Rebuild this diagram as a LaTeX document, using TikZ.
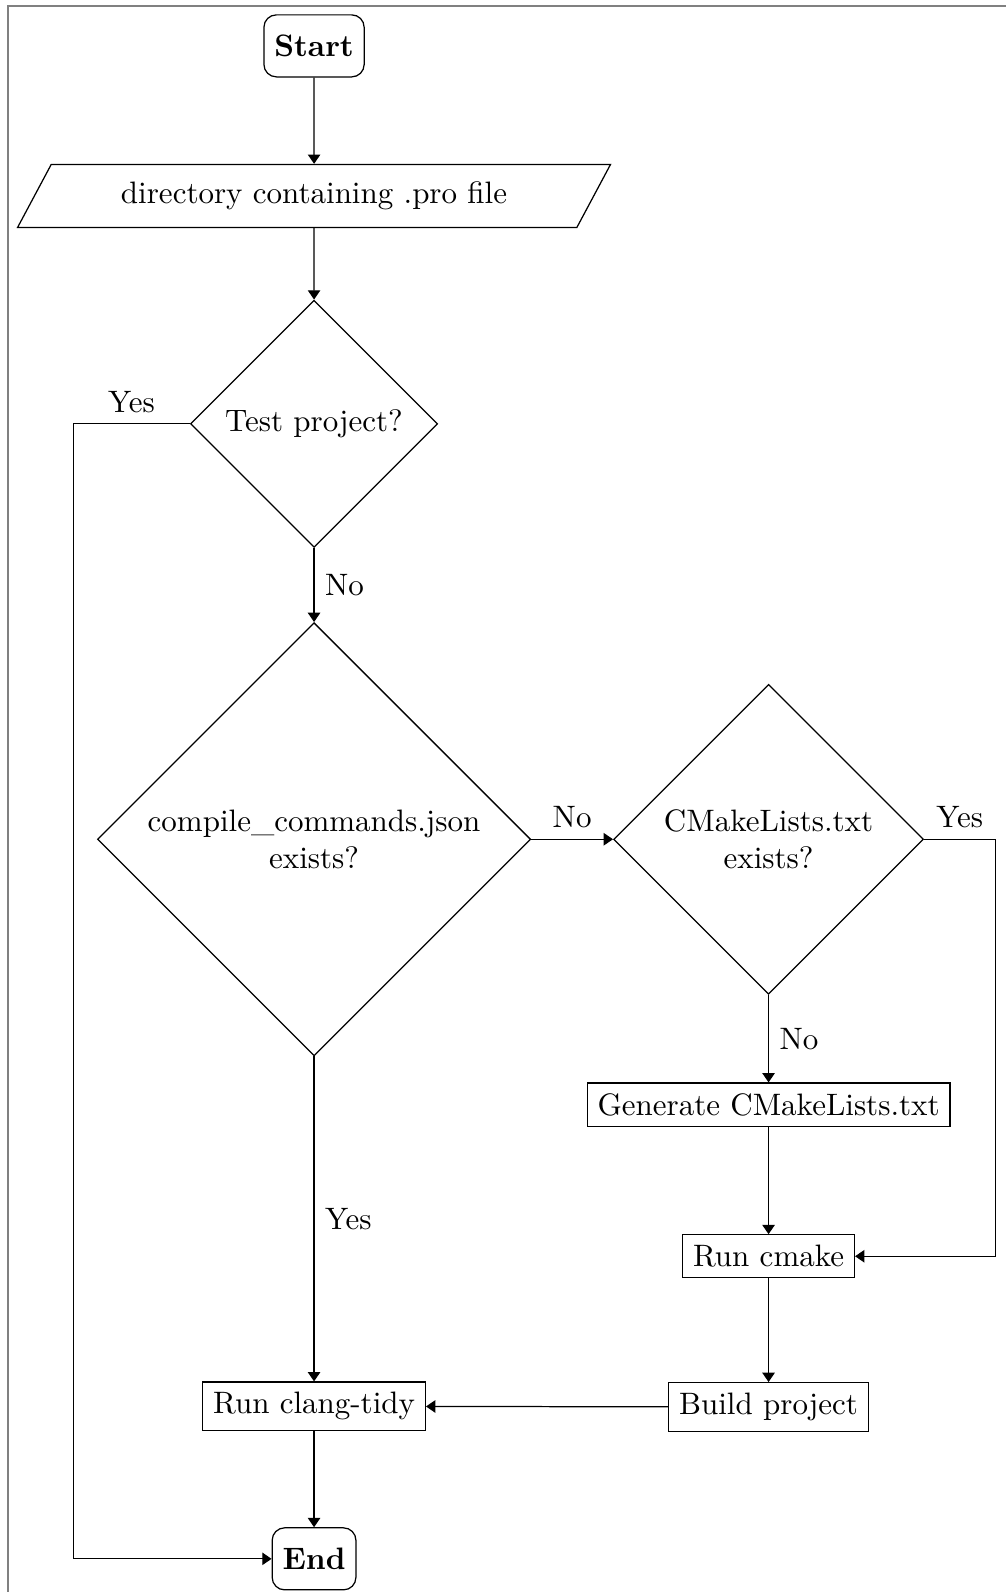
\documentclass[tikz,border=0pt]{standalone}
\usepackage{amsmath}
\usetikzlibrary{shapes.geometric, arrows.meta, positioning}

\tikzset{
  terminal/.style={rectangle, rounded corners=4pt, draw, minimum height=20pt, font=\bfseries},
  io/.style={trapezium, trapezium left angle=62, trapezium right angle=118,
    trapezium stretches=true, draw, minimum width=191.6pt, minimum height=20.3pt},
  decision/.style={diamond, draw, align=center},
  process/.style={rectangle, draw},
  flow/.style={-{Triangle[length=3pt,width=4pt]}},
  frameline/.style={draw=gray, line width=0.6pt},
}

\begin{document}
\begin{tikzpicture}[on grid]
  \useasboundingbox (-101.3pt,14.8pt) rectangle (223.2pt,-498.7pt);
  \draw[frameline] (-98.7pt,-498.7pt) |- (223.2pt,12.9pt);

  % Define nodes
  \node[terminal]                          (start)   {Start};
  \node[io, below=48.4pt of start]         (prodir)  {directory containing .pro file};
  \node[decision, below=73.5pt of prodir]  (istest)  {Test project?};
  \node[decision, below=134pt of istest]   (hasdb)   {compile\_commands.json\\exists?};
  \node[decision, right=146.6pt of hasdb]  (hascm)   {CMakeLists.txt\\exists?};
  \node[process, below=85.6pt of hascm]    (gencm)   {Generate CMakeLists.txt};
  \node[process, below=48.9pt of gencm]    (runcm)   {Run cmake};
  \node[process, below=48.6pt of runcm]    (build)   {Build project};
  \node[process, below=182.9pt of hasdb]   (tidy)    {Run clang-tidy};
  \node[terminal, below=49.2pt of tidy]    (end)     {End};
  \coordinate (yesleft)  at (-77.7pt,0);
  \coordinate (yesright) at (219.7pt,0);

  % Connect the nodes
  \draw[flow] (start)  -- (prodir);
  \draw[flow] (prodir) -- (istest);
  \draw[flow] (istest) -- node[right] {No} (hasdb);
  \draw[flow] (istest.west) -- node[above] {Yes} (istest.west -| yesleft) |- (end.west);
  \draw[flow] (hasdb.east) -- node[above] {No} (hascm.west);
  \draw[flow] (hasdb) -- node[right] {Yes} (tidy);
  \draw[flow] (hascm) -- node[right] {No} (gencm);
  \draw[flow] (hascm.east) -- node[above] {Yes} (hascm.east -| yesright) |- (runcm.east);
  \draw[flow] (gencm)  -- (runcm);
  \draw[flow] (runcm)  -- (build);
  \draw[flow] (build)  -- (tidy);
  \draw[flow] (tidy)   -- (end);
\end{tikzpicture}
\end{document}
